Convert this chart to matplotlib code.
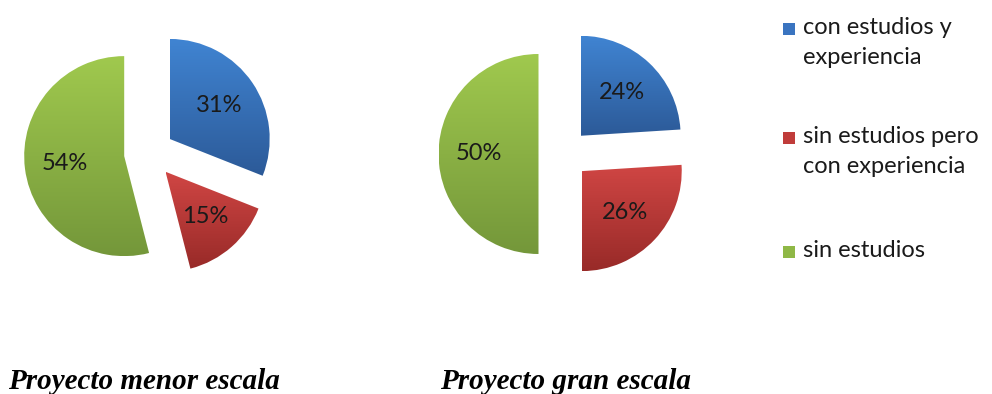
import numpy as np
import matplotlib.pyplot as plt
from matplotlib.colors import LinearSegmentedColormap
from matplotlib.patches import Rectangle

# Data
categories = ["con estudios y\nexperiencia", "sin estudios pero\ncon experiencia", "sin estudios"]
menor_escala = [31, 15, 54]
gran_escala = [24, 26, 50]
titles = ["Proyecto menor escala", "Proyecto gran escala"]

# Per-slice vertical gradient colours (top -> bottom)
top_colors = ["#4084d2", "#d04644", "#a0c94e"]
bottom_colors = ["#2c5a98", "#982a28", "#74973a"]
legend_colors = ["#3a74c0", "#c03c3a", "#8fb846"]

W, H = 992, 394
fig = plt.figure(figsize=(W / 100, H / 100), dpi=100)
ax = fig.add_axes([0, 0, 1, 1])
ax.axis("off")

LABEL_FONT = "Lato"
RADIUS = 100
EXPLODE = 25


def gradient_pie(values, center):
    wedges, _, autotexts = ax.pie(
        values, center=center, radius=RADIUS, startangle=90,
        counterclock=False, explode=[EXPLODE] * len(values),
        autopct=lambda p: f"{p:.0f}%", pctdistance=0.6,
        wedgeprops=dict(linewidth=0),
        textprops=dict(fontsize=17, family=LABEL_FONT, color="#1a1a1a"),
    )
    for w, top, bot in zip(wedges, top_colors, bottom_colors):
        w.set_facecolor("none")
        ext = w.get_path().get_extents()
        cmap = LinearSegmentedColormap.from_list("g", [bot, top])
        grad = np.linspace(0, 1, 256).reshape(-1, 1)
        im = ax.imshow(grad, cmap=cmap, origin="lower", aspect="auto",
                       extent=(ext.x0, ext.x1, ext.y0, ext.y1),
                       interpolation="bilinear", zorder=1.5)
        im.set_clip_path(w)
    for t in autotexts:
        t.set_zorder(3)


gradient_pie(menor_escala, (149, H - 153))
gradient_pie(gran_escala, (563.5, H - 154))

ax.set_xlim(0, W)
ax.set_ylim(0, H)
ax.set_aspect("equal")

# Legend drawn on the right, one text line at a time
legend_baselines = [H - 34, H - 143, H - 257]
LINE_STEP = 30
for label, color, yb in zip(categories, legend_colors, legend_baselines):
    ax.add_patch(Rectangle((783, yb - 1), 12, 12, facecolor=color,
                           edgecolor="none", zorder=3))
    for i, line in enumerate(label.split("\n")):
        ax.text(803, yb - i * LINE_STEP, line, ha="left", va="baseline",
                fontsize=17, family=LABEL_FONT, color="#1a1a1a")

# Chart titles below each pie
for x, title in zip([8, 440], titles):
    ax.text(x, H - 389, title, ha="left", va="baseline", fontsize=21,
            family="Liberation Serif", fontweight="bold", style="italic",
            color="black")

fig.savefig("out.png", dpi=100)
